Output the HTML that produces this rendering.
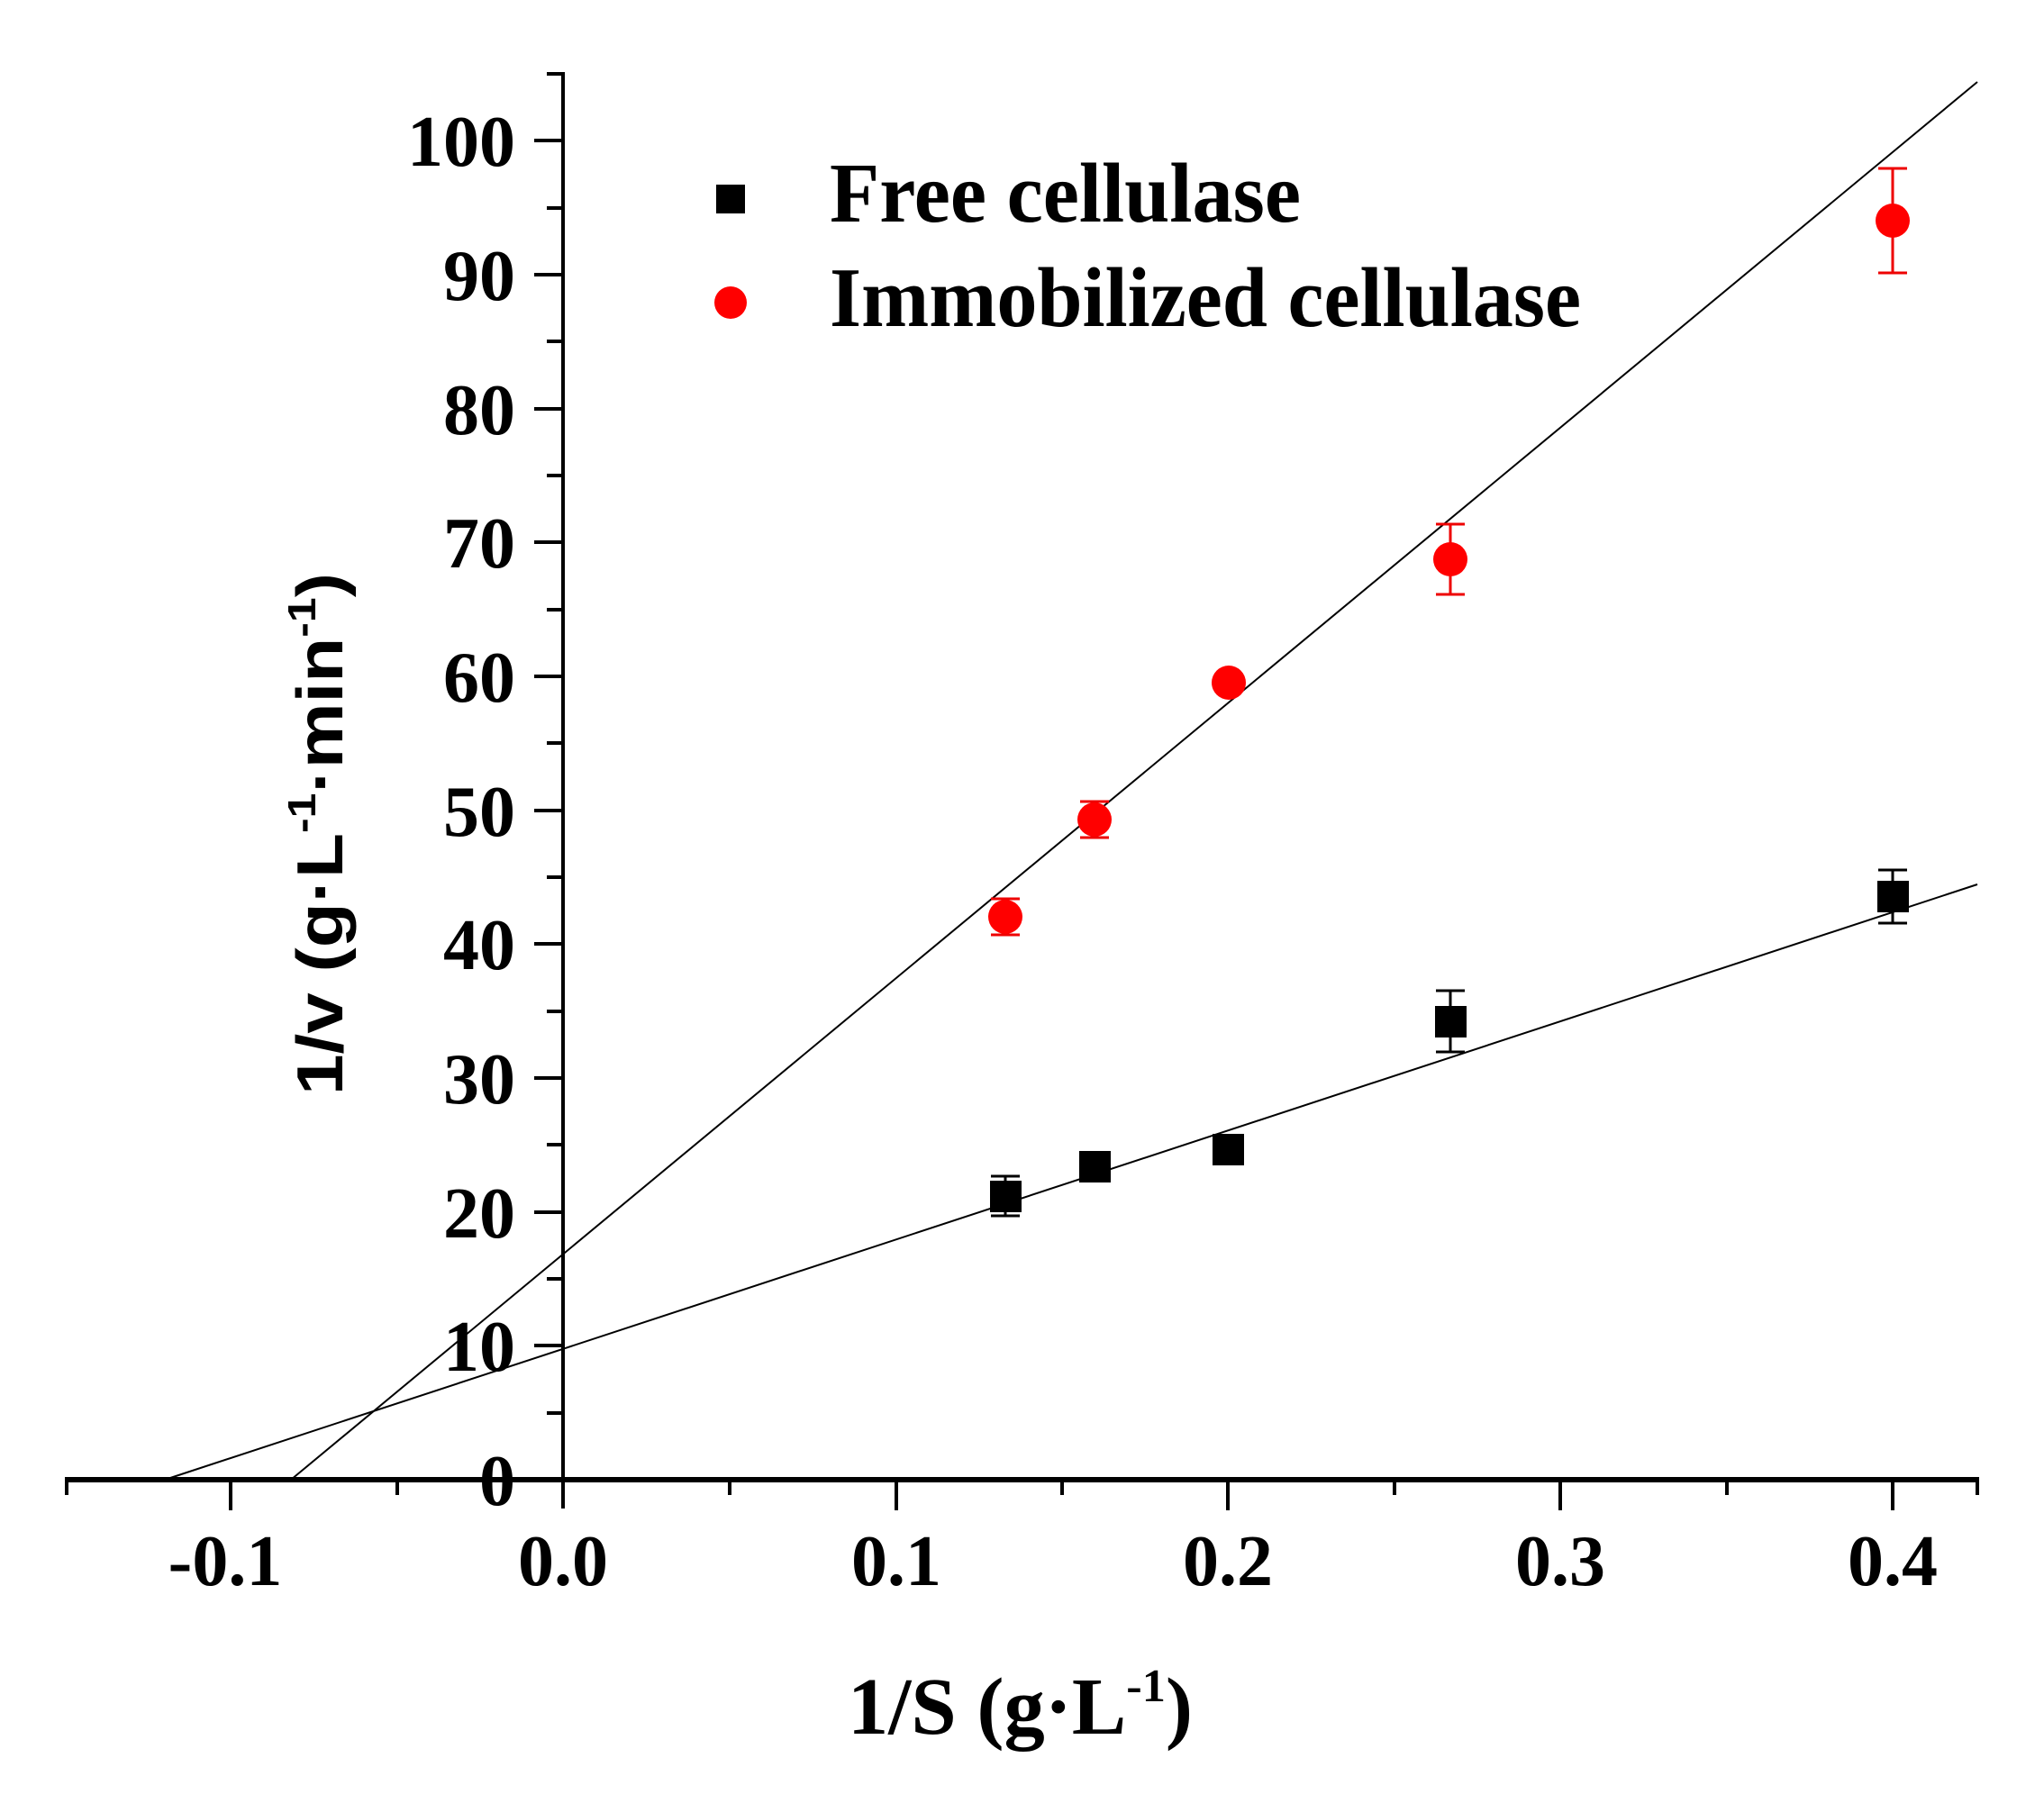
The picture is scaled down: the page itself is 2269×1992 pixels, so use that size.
<!DOCTYPE html>
<html><head><meta charset="utf-8"><style>html,body{margin:0;padding:0;background:#fff}</style></head>
<body>
<svg width="2269" height="1987" viewBox="0 0 2269 1987" xmlns="http://www.w3.org/2000/svg">
<rect width="2269" height="1987" fill="#fff"/>
<g stroke="#000" fill="none">
<line x1="625" y1="80" x2="625" y2="1675" stroke-width="4"/>
<line x1="72" y1="1643" x2="2197" y2="1643" stroke-width="6"/>
<g stroke-width="4">
<line x1="593" y1="1643" x2="625" y2="1643"/><line x1="607" y1="1569" x2="625" y2="1569"/>
<line x1="593" y1="1494" x2="625" y2="1494"/><line x1="607" y1="1420" x2="625" y2="1420"/>
<line x1="593" y1="1346" x2="625" y2="1346"/><line x1="607" y1="1271" x2="625" y2="1271"/>
<line x1="593" y1="1197" x2="625" y2="1197"/><line x1="607" y1="1123" x2="625" y2="1123"/>
<line x1="593" y1="1048" x2="625" y2="1048"/><line x1="607" y1="974" x2="625" y2="974"/>
<line x1="593" y1="900" x2="625" y2="900"/><line x1="607" y1="825" x2="625" y2="825"/>
<line x1="593" y1="751" x2="625" y2="751"/><line x1="607" y1="677" x2="625" y2="677"/>
<line x1="593" y1="602" x2="625" y2="602"/><line x1="607" y1="528" x2="625" y2="528"/>
<line x1="593" y1="454" x2="625" y2="454"/><line x1="607" y1="379" x2="625" y2="379"/>
<line x1="593" y1="305" x2="625" y2="305"/><line x1="607" y1="231" x2="625" y2="231"/>
<line x1="593" y1="156" x2="625" y2="156"/><line x1="607" y1="82" x2="625" y2="82"/>
<line x1="74" y1="1643" x2="74" y2="1660"/>
<line x1="256" y1="1643" x2="256" y2="1677"/>
<line x1="441" y1="1643" x2="441" y2="1660"/>
<line x1="995" y1="1643" x2="995" y2="1677"/>
<line x1="810" y1="1643" x2="810" y2="1660"/>
<line x1="1363" y1="1643" x2="1363" y2="1677"/>
<line x1="1179" y1="1643" x2="1179" y2="1660"/>
<line x1="1732" y1="1643" x2="1732" y2="1677"/>
<line x1="1548" y1="1643" x2="1548" y2="1660"/>
<line x1="2101" y1="1643" x2="2101" y2="1677"/>
<line x1="1917" y1="1643" x2="1917" y2="1660"/>
<line x1="2195" y1="1643" x2="2195" y2="1660"/>
</g>
<line x1="183" y1="1643" x2="2195" y2="982" stroke-width="2"/>
<line x1="323" y1="1643" x2="2195" y2="91" stroke-width="2"/>
</g>
<g font-family="Liberation Serif, serif" font-weight="bold" font-size="80" fill="#000">
<g text-anchor="end">
<text x="572" y="1671">0</text><text x="572" y="1522">10</text><text x="572" y="1374">20</text>
<text x="572" y="1225">30</text><text x="572" y="1076">40</text><text x="572" y="928">50</text>
<text x="572" y="779">60</text><text x="572" y="630">70</text><text x="572" y="482">80</text>
<text x="572" y="333">90</text><text x="572" y="184">100</text>
</g>
<g text-anchor="middle">
<text x="250" y="1760">-0.1</text><text x="625" y="1760">0.0</text><text x="995" y="1760">0.1</text>
<text x="1363" y="1760">0.2</text><text x="1732" y="1760">0.3</text><text x="2101" y="1760">0.4</text>
</g>
<text x="941" y="1925" font-size="90" textLength="383" lengthAdjust="spacingAndGlyphs">1/S (g·L<tspan dy="-36" font-size="52">-1</tspan><tspan dy="36">)</tspan></text>
<text x="921" y="246" font-size="94" textLength="523" lengthAdjust="spacingAndGlyphs">Free cellulase</text>
<text x="921" y="362" font-size="94" textLength="834" lengthAdjust="spacingAndGlyphs">Immobilized cellulase</text>
</g>
<text transform="translate(380,1216) rotate(-90)" font-family="Liberation Sans, sans-serif" font-weight="bold" font-size="72" textLength="580" lengthAdjust="spacingAndGlyphs">1/v (g·L<tspan dy="-30" font-size="44">-1</tspan><tspan dy="30">·min</tspan><tspan dy="-30" font-size="44">-1</tspan><tspan dy="30">)</tspan></text>
<rect x="795" y="205" width="32" height="32" fill="#000"/>
<circle cx="811" cy="336" r="18" fill="#f00"/>
<g stroke="#000" stroke-width="3">
<line x1="1116" y1="1306" x2="1116" y2="1350"/><line x1="1100" y1="1306" x2="1132" y2="1306"/><line x1="1100" y1="1350" x2="1132" y2="1350"/>
<line x1="1610" y1="1100" x2="1610" y2="1168"/><line x1="1594" y1="1100" x2="1626" y2="1100"/><line x1="1594" y1="1168" x2="1626" y2="1168"/>
<line x1="2101" y1="966" x2="2101" y2="1025"/><line x1="2085" y1="966" x2="2117" y2="966"/><line x1="2085" y1="1025" x2="2117" y2="1025"/>
</g>
<g fill="#000">
<rect x="1099" y="1311" width="35" height="35"/><rect x="1198" y="1278" width="35" height="35"/>
<rect x="1346" y="1259" width="35" height="35"/><rect x="1593" y="1117" width="35" height="35"/>
<rect x="2084" y="978" width="35" height="35"/>
</g>
<g stroke="#e00" stroke-width="3">
<line x1="1116" y1="998" x2="1116" y2="1038"/><line x1="1100" y1="998" x2="1132" y2="998"/><line x1="1100" y1="1038" x2="1132" y2="1038"/>
<line x1="1215" y1="890" x2="1215" y2="930"/><line x1="1199" y1="890" x2="1231" y2="890"/><line x1="1199" y1="930" x2="1231" y2="930"/>
<line x1="1610" y1="582" x2="1610" y2="660"/><line x1="1594" y1="582" x2="1626" y2="582"/><line x1="1594" y1="660" x2="1626" y2="660"/>
<line x1="2101" y1="187" x2="2101" y2="303"/><line x1="2085" y1="187" x2="2117" y2="187"/><line x1="2085" y1="303" x2="2117" y2="303"/>
</g>
<g fill="#f00">
<circle cx="1116" cy="1018" r="19"/><circle cx="1215" cy="910" r="19"/><circle cx="1364" cy="758" r="19"/>
<circle cx="1610" cy="621" r="19"/><circle cx="2101" cy="245" r="19"/>
</g>
</svg>
</body></html>
